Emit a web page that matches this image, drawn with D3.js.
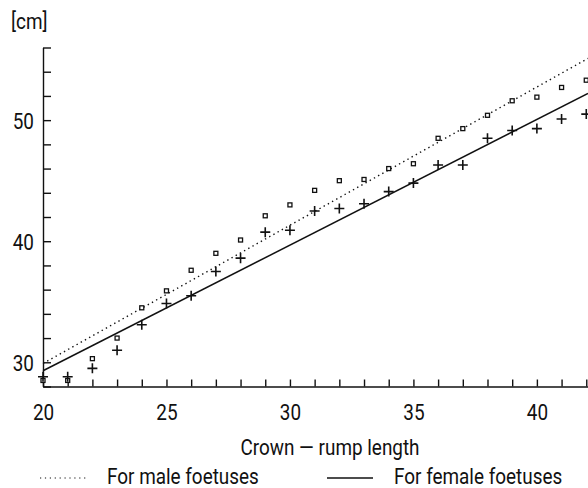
<!DOCTYPE html>
<html>
<head>
<meta charset="utf-8">
<script src="https://cdn.jsdelivr.net/npm/d3@7"></script>
<style>
  body { margin: 0; background: #fff; }
  text { font-family: "Roboto", "Liberation Sans", sans-serif; font-size: 22px; fill: #111; }
</style>
</head>
<body>
<script>
// crown-rump length (cm)
var crl = [20, 21, 22, 23, 24, 25, 26, 27, 28, 29, 30, 31, 32, 33, 34, 35, 36, 37, 38, 39, 40, 41, 42];
// observed values, male foetuses (squares)
var maleValues = [28.5, 28.5, 30.3, 32.0, 34.5, 35.9, 37.6, 39.0, 40.1, 42.1, 43.0, 44.2, 45.0, 45.1, 46.0, 46.4, 48.5, 49.3, 50.4, 51.6, 51.9, 52.7, 53.3];
// observed values, female foetuses (crosses)
var femaleValues = [28.8, 28.8, 29.5, 31.0, 33.1, 34.85, 35.5, 37.5, 38.6, 40.75, 40.9, 42.5, 42.7, 43.1, 44.1, 44.8, 46.3, 46.3, 48.5, 49.15, 49.3, 50.1, 50.5];
// fitted lines, [start, end]
var maleFitX = [20, 42.07], maleFitY = [29.9, 55.1];
var femaleFitX = [20, 42.07], femaleFitY = [29.3, 52.2];
// ticks
var xTicks = [20, 21, 22, 23, 24, 25, 26, 27, 28, 29, 30, 31, 32, 33, 34, 35, 36, 37, 38, 39, 40, 41, 42];
var xLabels = [20, 25, 30, 35, 40];
var yTicks = [28, 30, 32, 34, 36, 38, 40, 42, 44, 46, 48, 50, 52, 54, 56];
var yLabels = [30, 40, 50];

var width = 588, height = 488;
var margin = {left: 43, right: 588, top: 47.5, bottom: 386.5};
var squeeze = 0.86; // narrow the font horizontally

var svg = d3.select("body").append("svg")
    .attr("width", width)
    .attr("height", height);

var x = d3.scaleLinear().domain([20, 42.07]).range([margin.left, margin.right]);
var y = d3.scaleLinear().domain([28, 56]).range([margin.bottom, margin.top]);

var addText = function (tx, ty, anchor, str) {
    svg.append("text")
        .attr("transform", "translate(" + tx + "," + ty + ") scale(" + squeeze + ",1)")
        .attr("text-anchor", anchor)
        .text(str);
};

// axes, ticks point inward
var xAxis = svg.append("g")
    .attr("transform", "translate(0," + margin.bottom + ")")
    .call(d3.axisBottom(x)
        .tickValues(xTicks)
        .tickSizeInner(-7)
        .tickSizeOuter(0)
        .tickFormat(function (d) { return xLabels.indexOf(d) >= 0 ? d : ""; }));
xAxis.selectAll("text")
    .attr("y", 0)
    .attr("dy", 0)
    .attr("transform", "translate(0,33) scale(" + squeeze + ",1)")
    .style("font-size", null)
    .attr("font-size", null)
    .attr("font-family", null);

var yAxis = svg.append("g")
    .attr("transform", "translate(" + margin.left + ",0)")
    .call(d3.axisLeft(y)
        .tickValues(yTicks)
        .tickSizeInner(-8)
        .tickSizeOuter(0)
        .tickFormat(function (d) { return yLabels.indexOf(d) >= 0 ? d : ""; }));
yAxis.selectAll("text")
    .attr("x", 0)
    .attr("dy", 0)
    .attr("transform", "translate(-9,8) scale(" + squeeze + ",1)");

svg.selectAll("g").attr("font-size", null).attr("font-family", null);
svg.selectAll(".domain, .tick line")
    .attr("stroke", "#111")
    .attr("stroke-width", 1.4);
svg.selectAll(".tick text").attr("fill", "#111");

// unit
addText(11, 29, "start", "[cm]");

// fitted lines
var line = d3.line()
    .x(function (d) { return x(d[0]); })
    .y(function (d) { return y(d[1]); });

svg.append("path")
    .datum(d3.zip(maleFitX, maleFitY))
    .attr("d", line)
    .attr("fill", "none")
    .attr("stroke", "#111")
    .attr("stroke-width", 1.4)
    .attr("stroke-dasharray", "1.4,3.4");

svg.append("path")
    .datum(d3.zip(femaleFitX, femaleFitY))
    .attr("d", line)
    .attr("fill", "none")
    .attr("stroke", "#111")
    .attr("stroke-width", 1.5);

// male points - small hollow squares
svg.selectAll(".male")
    .data(d3.zip(crl, maleValues))
    .enter().append("rect")
    .attr("class", "male")
    .attr("x", function (d) { return x(d[0]) - 2; })
    .attr("y", function (d) { return y(d[1]) - 2; })
    .attr("width", 4)
    .attr("height", 4)
    .attr("fill", "#fff")
    .attr("stroke", "#111")
    .attr("stroke-width", 1.3);

// female points - crosses
svg.selectAll(".female")
    .data(d3.zip(crl, femaleValues))
    .enter().append("path")
    .attr("class", "female")
    .attr("d", function (d) {
        var cx = x(d[0]), cy = y(d[1]), r = 5;
        return "M" + (cx - r) + "," + cy + "H" + (cx + r)
            + "M" + cx + "," + (cy - r) + "V" + (cy + r);
    })
    .attr("stroke", "#111")
    .attr("stroke-width", 1.6)
    .attr("fill", "none");

// axis title
addText(330, 455, "middle", "Crown \u2014 rump length");

// legend
svg.append("line")
    .attr("x1", 40).attr("x2", 86)
    .attr("y1", 478).attr("y2", 478)
    .attr("stroke", "#111")
    .attr("stroke-width", 1.2)
    .attr("stroke-dasharray", "1.2,3.7");
addText(107, 484, "start", "For male foetuses");

svg.append("line")
    .attr("x1", 327).attr("x2", 373)
    .attr("y1", 478).attr("y2", 478)
    .attr("stroke", "#111")
    .attr("stroke-width", 1.4);
addText(394, 484, "start", "For female foetuses");
</script>
</body>
</html>
